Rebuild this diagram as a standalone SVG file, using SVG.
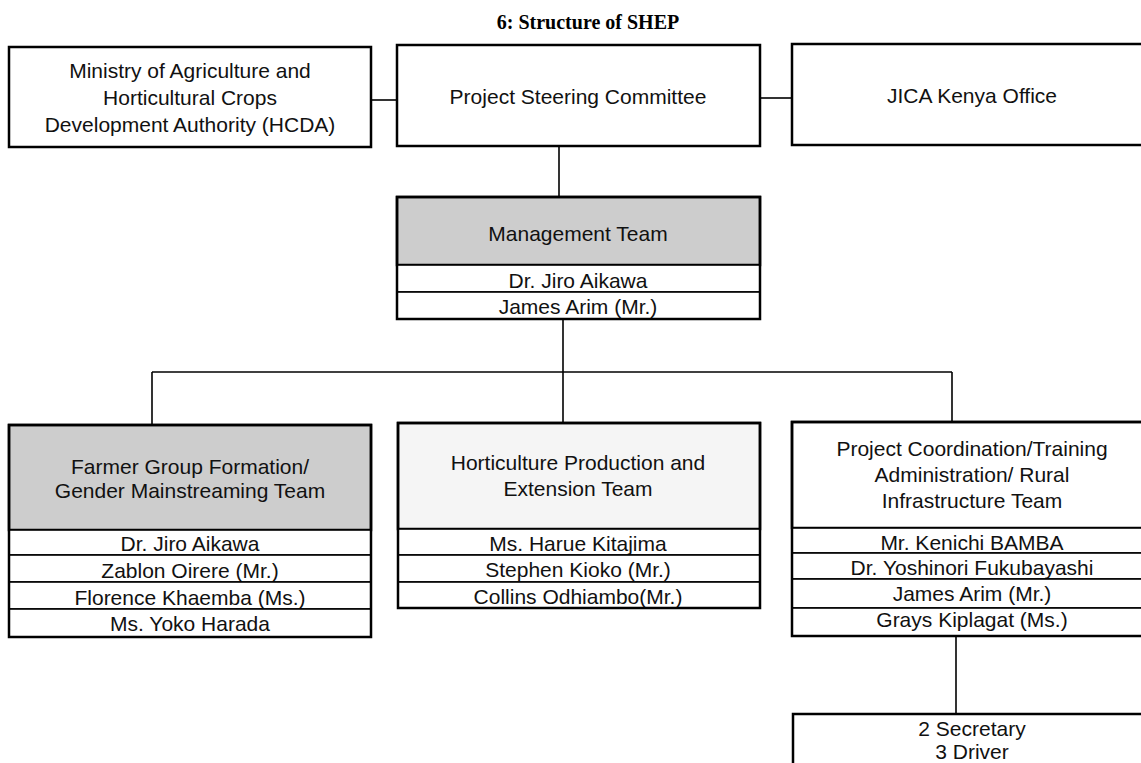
<svg xmlns="http://www.w3.org/2000/svg" width="1141" height="763" viewBox="0 0 1141 763">
<style>
.box{fill:#fff;stroke:#000;stroke-width:2.5}
.hdr{fill:#cdcdcd;stroke:#000;stroke-width:2.5}
.hdrl{fill:#f5f5f5;stroke:#000;stroke-width:2.5}
.row{fill:#fff;stroke:#000;stroke-width:1.6}
.t{font-family:"Liberation Sans",Arial,sans-serif;font-size:21px;fill:#111;text-anchor:middle;dominant-baseline:central}
.title{font-family:"Liberation Serif","Times New Roman",serif;font-size:20px;font-weight:bold;text-anchor:middle}
.c{stroke:#000;stroke-width:1.6;fill:none}
</style>
<rect width="1141" height="763" fill="#fff"/>
<text class="title" x="588" y="29">6: Structure of SHEP</text>
<g id="connectors">
<line class="c" x1="371" y1="100" x2="397" y2="100"/>
<line class="c" x1="760" y1="98" x2="792" y2="98"/>
<line class="c" x1="559" y1="146" x2="559" y2="197"/>
<line class="c" x1="563" y1="319" x2="563" y2="372"/>
<line class="c" x1="152" y1="372" x2="952" y2="372"/>
<line class="c" x1="152" y1="372" x2="152" y2="425"/>
<line class="c" x1="563" y1="372" x2="563" y2="423"/>
<line class="c" x1="952" y1="372" x2="952" y2="422"/>
<line class="c" x1="956" y1="636" x2="956" y2="714"/>
</g>
<g id="ministry">
<rect class="box" x="9" y="47" width="362" height="100"/>
<text class="t" x="190" y="70">Ministry of Agriculture and</text>
<text class="t" x="190" y="97">Horticultural Crops</text>
<text class="t" x="190" y="124">Development Authority (HCDA)</text>
</g>
<g id="steering">
<rect class="box" x="397" y="45" width="363" height="101"/>
<text class="t" x="578" y="96">Project Steering Committee</text>
</g>
<g id="jica">
<rect class="box" x="792" y="44" width="363" height="101"/>
<text class="t" x="972" y="95">JICA Kenya Office</text>
</g>
<g id="management">
<rect class="hdr" x="397" y="197" width="363" height="68"/>
<text class="t" x="578" y="233">Management Team</text>
<rect class="row" x="397" y="265" width="363" height="27"/>
<text class="t" x="578" y="280">Dr. Jiro Aikawa</text>
<rect class="row" x="397" y="292" width="363" height="27"/>
<text class="t" x="578" y="306">James Arim (Mr.)</text>
<rect x="397" y="197" width="363" height="122" fill="none" stroke="#000" stroke-width="2.5"/>
</g>
<g id="farmer">
<rect class="hdr" x="9" y="425" width="362" height="105"/>
<text class="t" x="190" y="466">Farmer Group Formation/</text>
<text class="t" x="190" y="490">Gender Mainstreaming Team</text>
<rect class="row" x="9" y="530" width="362" height="25"/>
<text class="t" x="190" y="543">Dr. Jiro Aikawa</text>
<rect class="row" x="9" y="555" width="362" height="27"/>
<text class="t" x="190" y="570">Zablon Oirere (Mr.)</text>
<rect class="row" x="9" y="582" width="362" height="27"/>
<text class="t" x="190" y="597">Florence Khaemba (Ms.)</text>
<rect class="row" x="9" y="609" width="362" height="28"/>
<text class="t" x="190" y="623">Ms. Yoko Harada</text>
<rect x="9" y="425" width="362" height="212" fill="none" stroke="#000" stroke-width="2.5"/>
</g>
<g id="horticulture">
<rect class="hdrl" x="398" y="423" width="362" height="106"/>
<text class="t" x="578" y="462">Horticulture Production and</text>
<text class="t" x="578" y="488">Extension Team</text>
<rect class="row" x="398" y="529" width="362" height="26"/>
<text class="t" x="578" y="543">Ms. Harue Kitajima</text>
<rect class="row" x="398" y="555" width="362" height="27"/>
<text class="t" x="578" y="569">Stephen Kioko (Mr.)</text>
<rect class="row" x="398" y="582" width="362" height="26"/>
<text class="t" x="578" y="596">Collins Odhiambo(Mr.)</text>
<rect x="398" y="423" width="362" height="185" fill="none" stroke="#000" stroke-width="2.5"/>
</g>
<g id="coordination">
<rect class="box" x="792" y="422" width="362" height="106"/>
<text class="t" x="972" y="448">Project Coordination/Training</text>
<text class="t" x="972" y="474">Administration/ Rural</text>
<text class="t" x="972" y="500">Infrastructure Team</text>
<rect class="row" x="792" y="528" width="362" height="25"/>
<text class="t" x="972" y="542">Mr. Kenichi BAMBA</text>
<rect class="row" x="792" y="553" width="362" height="26"/>
<text class="t" x="972" y="567">Dr. Yoshinori Fukubayashi</text>
<rect class="row" x="792" y="579" width="362" height="29"/>
<text class="t" x="972" y="593">James Arim (Mr.)</text>
<rect class="row" x="792" y="608" width="362" height="28"/>
<text class="t" x="972" y="619">Grays Kiplagat (Ms.)</text>
<rect x="792" y="422" width="362" height="214" fill="none" stroke="#000" stroke-width="2.5"/>
</g>
<g id="staff">
<rect class="box" x="793" y="714" width="362" height="70"/>
<text class="t" x="972" y="728">2 Secretary</text>
<text class="t" x="972" y="751">3 Driver</text>
</g>
</svg>
